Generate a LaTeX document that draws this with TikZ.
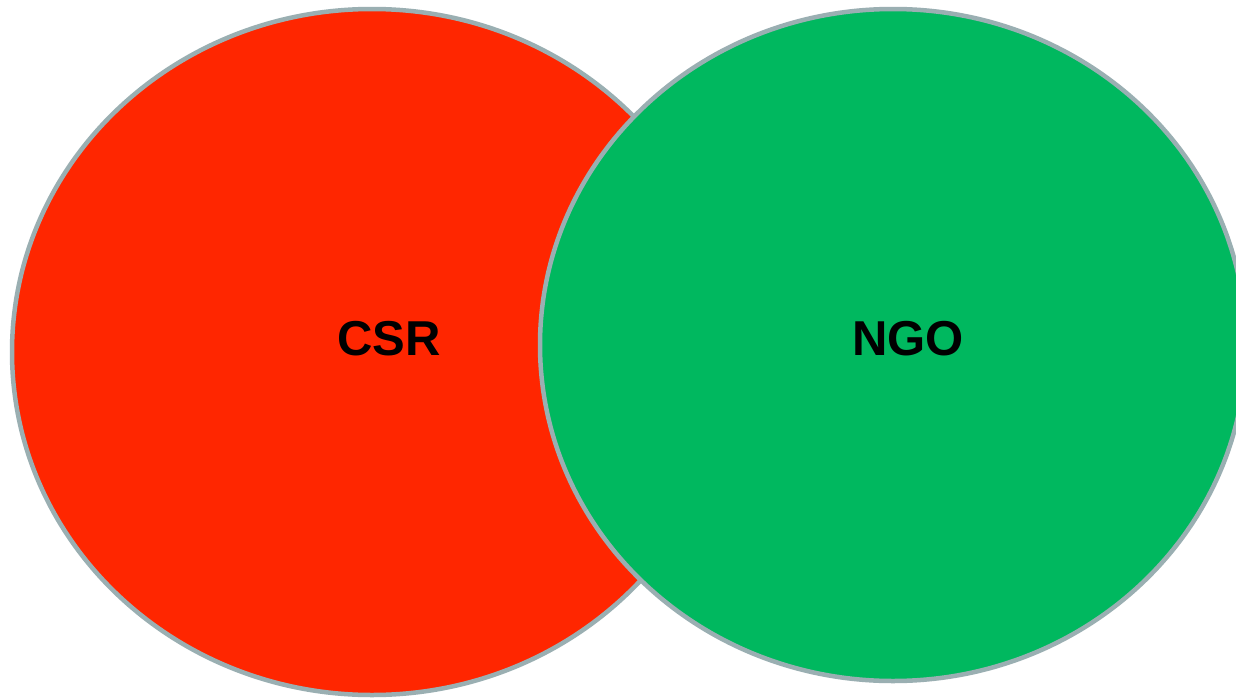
\documentclass[tikz,border=0pt]{standalone}
\usepackage{fontspec}
\setmainfont{Liberation Sans}
\definecolor{csrred}{HTML}{FF2600}
\definecolor{ngogreen}{HTML}{00B85F}
\definecolor{rimgray}{HTML}{9AAFB2}
\tikzset{
  circ/.style={draw=rimgray, line width=4.5pt},
  lbl/.style={font=\fontsize{49}{49}\selectfont\bfseries, text=black, inner sep=0pt}
}
\begin{document}
\begin{tikzpicture}[x=1pt,y=-1pt]
\useasboundingbox (0,0) rectangle (1236,699);
\clip (0,0) rectangle (1236,699);
\fill[white] (0,0) rectangle (1236,699);
\filldraw[circ, fill=csrred] (372,352) ellipse [x radius=360, y radius=343];
\filldraw[circ, fill=ngogreen] (893,345) ellipse [x radius=353, y radius=336];
\node[lbl] (csr) at (389,339) {CSR};
\node[lbl] (ngo) at (908,339) {NGO};
\end{tikzpicture}
\end{document}
